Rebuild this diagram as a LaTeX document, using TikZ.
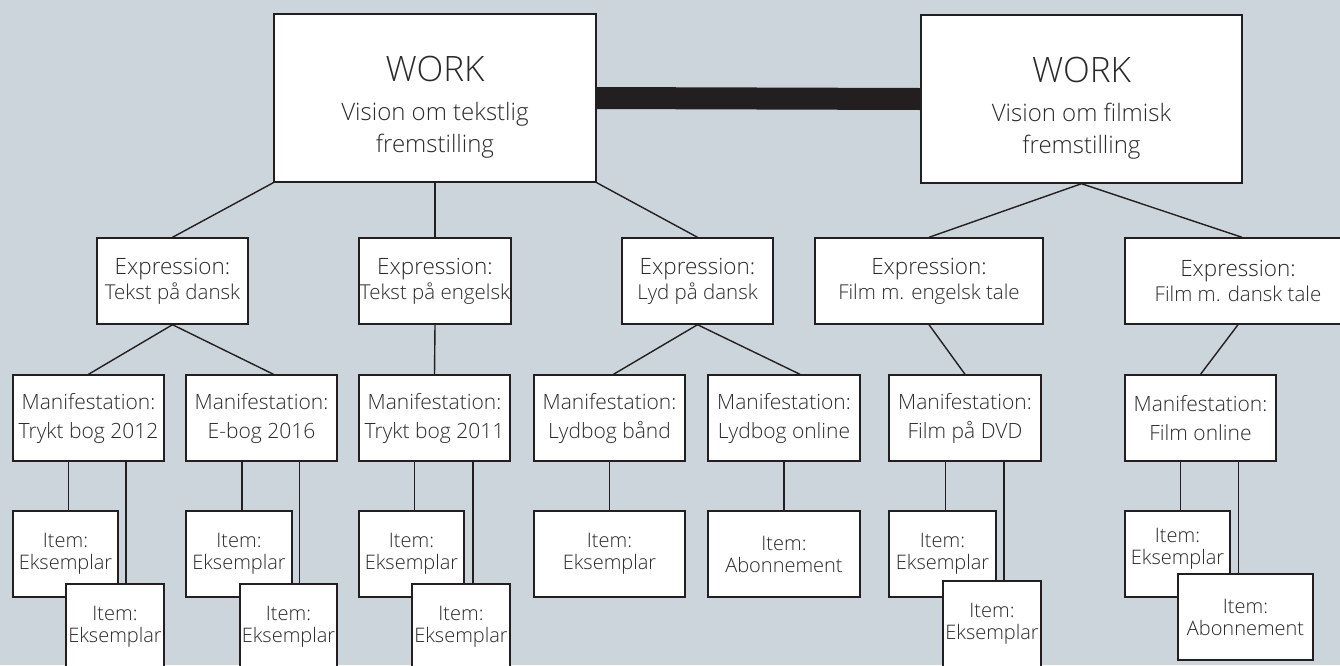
\documentclass[tikz,border=0pt]{standalone}
\usepackage{fontspec}
\setmainfont{Open Sans}[UprightFont={* Light}]
\usepackage{tikz}

\definecolor{bg}{HTML}{CCD5DC}
\definecolor{ink}{HTML}{231F20}
\definecolor{txt}{HTML}{2A2A2A}

\newcommand\worktitle{{\fontsize{35}{35}\selectfont\rule{0pt}{44pt}WORK}}
\newcommand\head[1]{{\fontsize{22.5}{25}\selectfont #1}}

\begin{document}
\begin{tikzpicture}[x=1pt,y=-1pt,
        every node/.style={draw=ink,fill=white,line width=1.4pt,align=center,inner sep=0pt,text=txt},
        work/.style={minimum width=322pt,minimum height=168pt,font=\fontsize{24}{32}\selectfont},
        expr/.style={minimum height=86pt,font=\fontsize{20.5}{25}\selectfont},
        manif/.style={minimum width=151pt,minimum height=86pt,font=\fontsize{21}{29}\selectfont},
        item/.style={minimum height=86pt,font=\fontsize{20}{22}\selectfont},
        link/.style={draw=ink,line width=1.4pt}]

    \clip (0,0) rectangle (1340,665);
    \fill[bg] (0,0) rectangle (1340,665);

    % works
    \node[work] (w1) at (435,98) {\worktitle\\[7pt]Vision om tekstlig\\fremstilling};
    \node[work,minimum width=321pt] (w2) at (1081.5,99) {\worktitle\\[7pt]Vision om filmisk\\fremstilling};
    \draw[ink,line width=22pt] (w1.east) -- (w2.west);

    % expressions
    \node[expr,minimum width=151pt] (e1) at (172.5,281) {\head{Expression:}\\Tekst på dansk};
    \node[expr,minimum width=152pt] (e2) at (435,281) {\head{Expression:}\\Tekst på engelsk};
    \node[expr,minimum width=151pt] (e3) at (697.5,281) {\head{Expression:}\\Lyd på dansk};
    \node[expr,minimum width=228pt] (e4) at (929,281) {\head{Expression:}\\Film m. engelsk tale};
    \node[expr,minimum width=226pt] (e5) at (1238,281) {\head{Expression:}\\Film m. dansk tale};

    % manifestations
    \node[manif] (m1) at (88.5,418) {Manifestation:\\Trykt bog 2012};
    \node[manif] (m2) at (261.5,418) {Manifestation:\\E-bog 2016};
    \node[manif] (m3) at (434.5,418) {Manifestation:\\Trykt bog 2011};
    \node[manif] (m4) at (609.5,418) {Manifestation:\\Lydbog bånd};
    \node[manif,minimum width=152pt] (m5) at (784,418) {Manifestation:\\Lydbog online};
    \node[manif,minimum width=152pt] (m6) at (965,418) {Manifestation:\\Film på DVD};
    \node[manif] (m7) at (1200.5,418) {Manifestation:\\Film online};

    % items
    \node[item,minimum width=105pt] (i1a) at (65.5,554) {Item:\\Eksemplar};
    \node[item,minimum width=98pt] (i1b) at (115,627) {Item:\\Eksemplar};
    \node[item,minimum width=106pt] (i2a) at (239,554) {Item:\\Eksemplar};
    \node[item,minimum width=97pt] (i2b) at (288.5,627) {Item:\\Eksemplar};
    \node[item,minimum width=105pt] (i3a) at (411.5,554) {Item:\\Eksemplar};
    \node[item,minimum width=98pt] (i3b) at (461,627) {Item:\\Eksemplar};
    \node[item,minimum width=151pt] (i4) at (609.5,554) {Item:\\Eksemplar};
    \node[item,minimum width=152pt] (i5) at (784,554) {Item:\\Abonnement};
    \node[item,minimum width=107pt] (i6a) at (942.5,554) {Item:\\Eksemplar};
    \node[item,minimum width=98pt] (i6b) at (992,624) {Item:\\Eksemplar};
    \node[item,minimum width=105pt] (i7a) at (1177.5,554) {Item:\\Eksemplar\rule[-15pt]{0pt}{15pt}};
    \node[item,minimum width=135pt] (i7b) at (1245.5,617) {Item:\\Abonnement};

    % links
    \draw[link] (w1.south west) -- (e1.north);
    \draw[link] (w1.south) -- (e2.north);
    \draw[link] (w1.south east) -- (e3.north);
    \draw[link] (w2.south) -- (e4.north);
    \draw[link] (w2.south) -- ([xshift=4pt]e5.north);

    \draw[link] (e1.south) -- (m1.north);
    \draw[link] (e1.south) -- ([xshift=12pt]m2.north);
    \draw[link] (e2.south) -- (m3.north);
    \draw[link] (e3.south) -- ([xshift=4pt]m4.north);
    \draw[link] (e3.south) -- ([xshift=16pt]m5.north);
    \draw[link] (e4.south) -- (m6.north);
    \draw[link] (e5.south) -- (m7.north);

    \foreach \m/\i/\dx in {m1/i1a/3, m1/i1b/11, m2/i2a/3, m2/i2b/11, m3/i3a/3, m3/i3b/12,
                           m4/i4/0, m5/i5/0, m6/i6a/3, m6/i6b/12, m7/i7a/3, m7/i7b/-7}
        \draw[link] ([xshift=\dx pt]\i.north) -- ([xshift=\dx pt]\i.north |- \m.south);
\end{tikzpicture}
\end{document}
